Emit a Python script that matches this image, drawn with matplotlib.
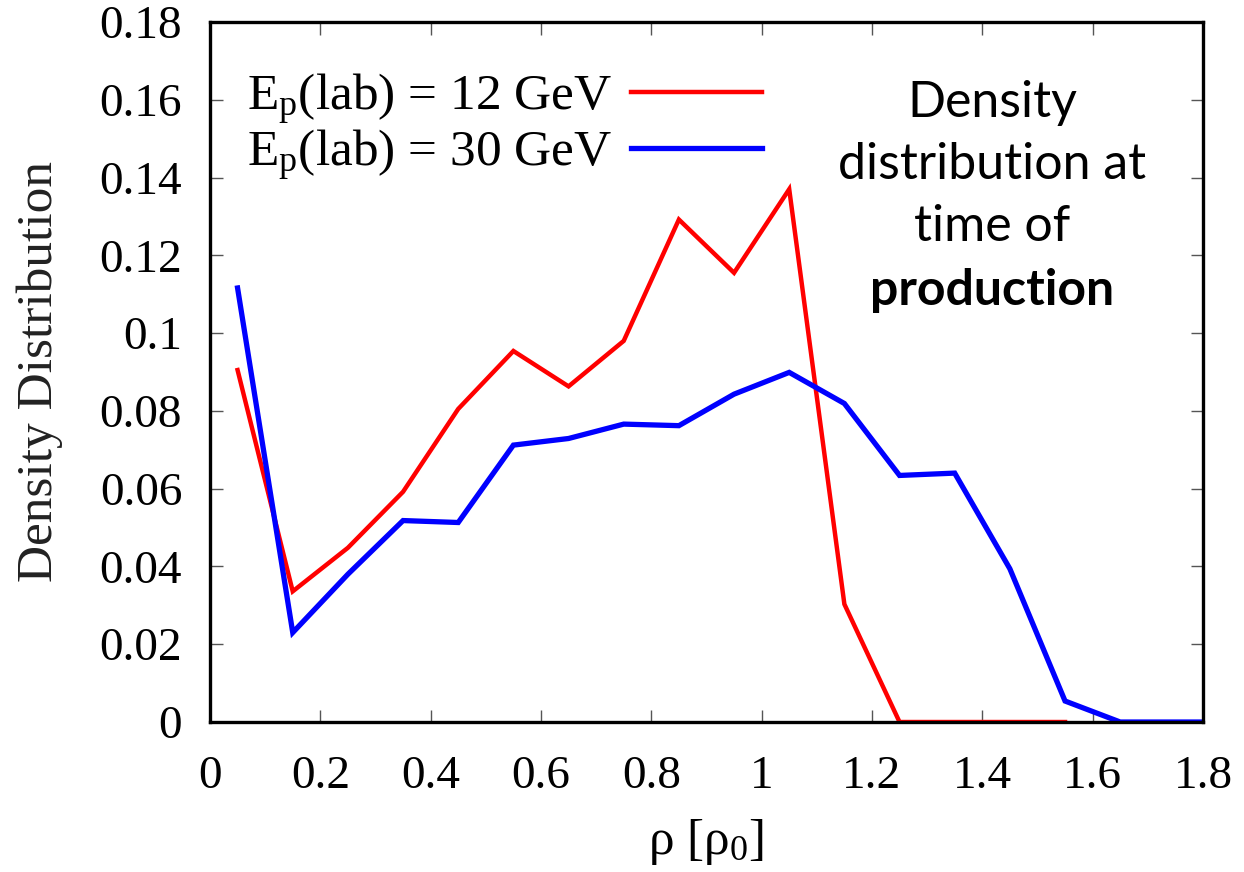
import matplotlib
matplotlib.use("Agg")
import matplotlib.pyplot as plt

# bin centres in units of rho_0
rho_12 = [0.05, 0.15, 0.25, 0.35, 0.45, 0.55, 0.65, 0.75, 0.85, 0.95,
          1.05, 1.15, 1.25, 1.35, 1.45, 1.55]
dens_12 = [0.0905, 0.0336, 0.0448, 0.0592, 0.0805, 0.0954, 0.0863, 0.0980,
           0.1292, 0.1155, 0.1370, 0.0303, 0.0, 0.0, 0.0, 0.0]

rho_30 = [0.05, 0.15, 0.25, 0.35, 0.45, 0.55, 0.65, 0.75, 0.85, 0.95,
          1.05, 1.15, 1.25, 1.35, 1.45, 1.55, 1.65, 1.75, 1.85]
dens_30 = [0.1116, 0.0230, 0.0380, 0.0518, 0.0513, 0.0712, 0.0729, 0.0766,
           0.0762, 0.0843, 0.0899, 0.0819, 0.0634, 0.0640, 0.0394, 0.0054,
           0.0, 0.0, 0.0]

xticks = [0, 0.2, 0.4, 0.6, 0.8, 1, 1.2, 1.4, 1.6, 1.8]
xticklabels = ["0", "0.2", "0.4", "0.6", "0.8", "1", "1.2", "1.4", "1.6", "1.8"]
yticks = [0, 0.02, 0.04, 0.06, 0.08, 0.1, 0.12, 0.14, 0.16, 0.18]
yticklabels = ["0", "0.02", "0.04", "0.06", "0.08", "0.1", "0.12", "0.14", "0.16", "0.18"]

note_lines = ["Density", "distribution at", "time of", "production"]

plt.rcParams["font.family"] = "Liberation Serif"
plt.rcParams["mathtext.fontset"] = "custom"
plt.rcParams["mathtext.rm"] = "Liberation Serif"
plt.rcParams["mathtext.it"] = "Liberation Serif:italic"

fig = plt.figure(figsize=(12.44, 8.72), dpi=100)
ax = fig.add_axes([0.1688, 0.172, 0.967 - 0.1688, 0.9748 - 0.172])

ax.plot(rho_12, dens_12, color="#ff0000", lw=3.2, solid_joinstyle="miter",
        label=r"E$_\mathrm{p}$(lab) = 12 GeV")
ax.plot(rho_30, dens_30, color="#0000ff", lw=3.8, solid_joinstyle="miter",
        label=r"E$_\mathrm{p}$(lab) = 30 GeV")

ax.set_xlim(0, 1.8)
ax.set_ylim(0, 0.18)
ax.set_xticks(xticks)
ax.set_xticklabels(xticklabels)
ax.set_yticks(yticks)
ax.set_yticklabels(yticklabels)
ax.tick_params(direction="in", length=9, width=1, color="#555555",
               top=True, right=True, labelsize=34)
ax.tick_params(axis="x", pad=24)
ax.tick_params(axis="y", pad=20)
for sp in ax.spines.values():
    sp.set_linewidth(2.4)

ax.set_xlabel(r"ρ [ρ$_\mathrm{0}$]", fontsize=37, labelpad=14)
ax.set_ylabel("Density Distribution", fontsize=37, labelpad=26, color="#222222")

leg = ax.legend(loc="upper left", bbox_to_anchor=(0.017, 0.958), frameon=False,
                markerfirst=False, fontsize=37, handlelength=2.55,
                handletextpad=0.35, labelspacing=0.02, borderaxespad=0)

# side note, one line at a time
note_y = [0.884, 0.796, 0.707, 0.617]
for i, line in enumerate(note_lines):
    ax.text(0.788, note_y[i], line, transform=ax.transAxes, family="Lato",
            fontsize=36, ha="center", va="center",
            fontweight="bold" if line == "production" else "normal")

fig.savefig("out.png", dpi=100)
